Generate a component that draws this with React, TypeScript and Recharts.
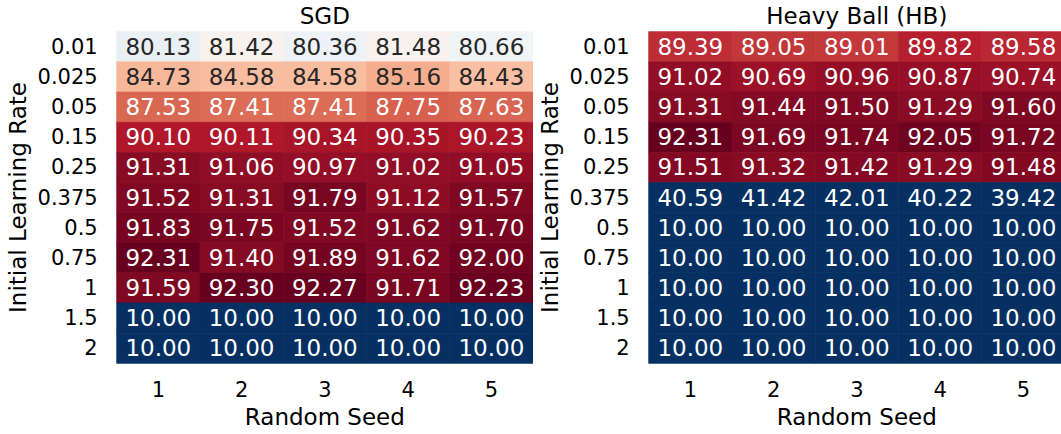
import React from "react";
import { ScatterChart, Scatter, XAxis, YAxis, Label } from "recharts";

const seeds = [1, 2, 3, 4, 5];
const learningRates = ["0.01", "0.025", "0.05", "0.15", "0.25", "0.375", "0.5", "0.75", "1", "1.5", "2"];

const sgdAcc = [
  [80.13, 81.42, 80.36, 81.48, 80.66],
  [84.73, 84.58, 84.58, 85.16, 84.43],
  [87.53, 87.41, 87.41, 87.75, 87.63],
  [90.1, 90.11, 90.34, 90.35, 90.23],
  [91.31, 91.06, 90.97, 91.02, 91.05],
  [91.52, 91.31, 91.79, 91.12, 91.57],
  [91.83, 91.75, 91.52, 91.62, 91.7],
  [92.31, 91.4, 91.89, 91.62, 92.0],
  [91.59, 92.3, 92.27, 91.71, 92.23],
  [10.0, 10.0, 10.0, 10.0, 10.0],
  [10.0, 10.0, 10.0, 10.0, 10.0],
];

const hbAcc = [
  [89.39, 89.05, 89.01, 89.82, 89.58],
  [91.02, 90.69, 90.96, 90.87, 90.74],
  [91.31, 91.44, 91.5, 91.29, 91.6],
  [92.31, 91.69, 91.74, 92.05, 91.72],
  [91.51, 91.32, 91.42, 91.29, 91.48],
  [40.59, 41.42, 42.01, 40.22, 39.42],
  [10.0, 10.0, 10.0, 10.0, 10.0],
  [10.0, 10.0, 10.0, 10.0, 10.0],
  [10.0, 10.0, 10.0, 10.0, 10.0],
  [10.0, 10.0, 10.0, 10.0, 10.0],
  [10.0, 10.0, 10.0, 10.0, 10.0],
];

const FONT = "DejaVu Sans";
const CHART_W = 533;
const CHART_H = 434;
const TOP = 31.7;
const Y_W = 116.7;
const X_H = 70.7;
const CELL_W = (CHART_W - Y_W) / seeds.length;
const CELL_H = (CHART_H - TOP - X_H) / learningRates.length;

// RdBu_r, matplotlib stops
const rdbu = ["#053061", "#2166ac", "#4393c3", "#92c5de", "#d1e5f0", "#f7f7f7", "#fddbc7", "#f4a582", "#d6604d", "#b2182b", "#67001f"];
const VMIN = 69.7;
const VMAX = 92.31;

function hexRgb(h: string) {
  return [1, 3, 5].map((i) => parseInt(h.slice(i, i + 2), 16));
}

function colorOf(v: number) {
  let t = (v - VMIN) / (VMAX - VMIN);
  t = Math.max(0, Math.min(1, t));
  const p = t * (rdbu.length - 1);
  const i = Math.min(Math.floor(p), rdbu.length - 2);
  const f = p - i;
  const a = hexRgb(rdbu[i]);
  const b = hexRgb(rdbu[i + 1]);
  return a.map((c, k) => Math.round(c + (b[k] - c) * f));
}

function textColor(rgb: number[]) {
  const lin = rgb.map((c) => {
    const s = c / 255;
    return s <= 0.03928 ? s / 12.92 : Math.pow((s + 0.055) / 1.055, 2.4);
  });
  const lum = 0.2126 * lin[0] + 0.7152 * lin[1] + 0.0722 * lin[2];
  return lum > 0.408 ? "#262626" : "#ffffff";
}

function HeatCell(props: any) {
  const { cx, cy, payload } = props;
  if (cx == null || cy == null) return null;
  const rgb = colorOf(payload.acc);
  const fill = `rgb(${rgb.join(",")})`;
  return (
    <g>
      <rect x={cx - CELL_W / 2} y={cy - CELL_H / 2} width={CELL_W} height={CELL_H} fill={fill} stroke={fill} strokeWidth={0.6} />
      <text x={cx} y={cy} textAnchor="middle" dominantBaseline="central" fontFamily={FONT} fontSize={23} fill={textColor(rgb)}>
        {payload.acc.toFixed(2)}
      </text>
    </g>
  );
}

function YTitle(props: any) {
  const vb = props.viewBox ?? { x: 0, y: TOP, width: Y_W, height: CHART_H - TOP - X_H };
  const x = vb.x + 26.3;
  const y = vb.y + vb.height / 2;
  return (
    <text x={x} y={y} transform={`rotate(-90 ${x} ${y})`} textAnchor="middle" fontFamily={FONT} fontSize={23} fill="#000">
      Initial Learning Rate
    </text>
  );
}

function XTick(props: any) {
  const { x, y, payload } = props;
  return (
    <text x={x} y={y} dy="0.71em" textAnchor="middle" fontFamily={FONT} fontSize={21} fill="#000">
      {payload.value}
    </text>
  );
}

function YTick(props: any) {
  const { x, y, payload } = props;
  return (
    <text x={x} y={y} dominantBaseline="central" textAnchor="end" fontFamily={FONT} fontSize={21} fill="#000">
      {learningRates[payload.value]}
    </text>
  );
}

function Heatmap({ title, acc }: { title: string; acc: number[][] }) {
  const rows = acc.flatMap((r, i) => r.map((v, j) => ({ seed: seeds[j], row: i, acc: v })));
  return (
    <ScatterChart width={CHART_W} height={CHART_H} margin={{ top: TOP, right: 0, bottom: 0, left: 0 }}>
      <XAxis
        type="number"
        dataKey="seed"
        domain={[0.5, 5.5]}
        ticks={seeds}
        interval={0}
        axisLine={false}
        tickLine={false}
        tickSize={0}
        tickMargin={19}
        height={X_H}
        tick={<XTick />}
      >
        <Label value="Random Seed" position="insideBottom" offset={9} style={{ fontFamily: FONT, fontSize: 23, fill: "#000" }} />
      </XAxis>
      <YAxis
        type="number"
        dataKey="row"
        domain={[-0.5, learningRates.length - 0.5]}
        ticks={learningRates.map((_, i) => i)}
        interval={0}
        reversed
        axisLine={false}
        tickLine={false}
        tickSize={0}
        tickMargin={19}
        width={Y_W}
        tick={<YTick />}
      >
        <Label content={<YTitle />} />
      </YAxis>
      <Scatter data={rows} isAnimationActive={false} shape={(p: any) => <HeatCell {...p} />} />
      <text x={Y_W + (CHART_W - Y_W) / 2} y={24} textAnchor="middle" fontFamily={FONT} fontSize={23} fill="#000">
        {title}
      </text>
    </ScatterChart>
  );
}

export default function App() {
  return (
    <div style={{ position: "absolute", left: 0, top: 0, width: 1061, height: 434, overflow: "hidden", background: "#fff" }}>
      <div style={{ position: "absolute", left: 0, top: 0 }}>
        <Heatmap title="SGD" acc={sgdAcc} />
      </div>
      <div style={{ position: "absolute", left: 531.6, top: 0 }}>
        <Heatmap title="Heavy Ball (HB)" acc={hbAcc} />
      </div>
    </div>
  );
}
